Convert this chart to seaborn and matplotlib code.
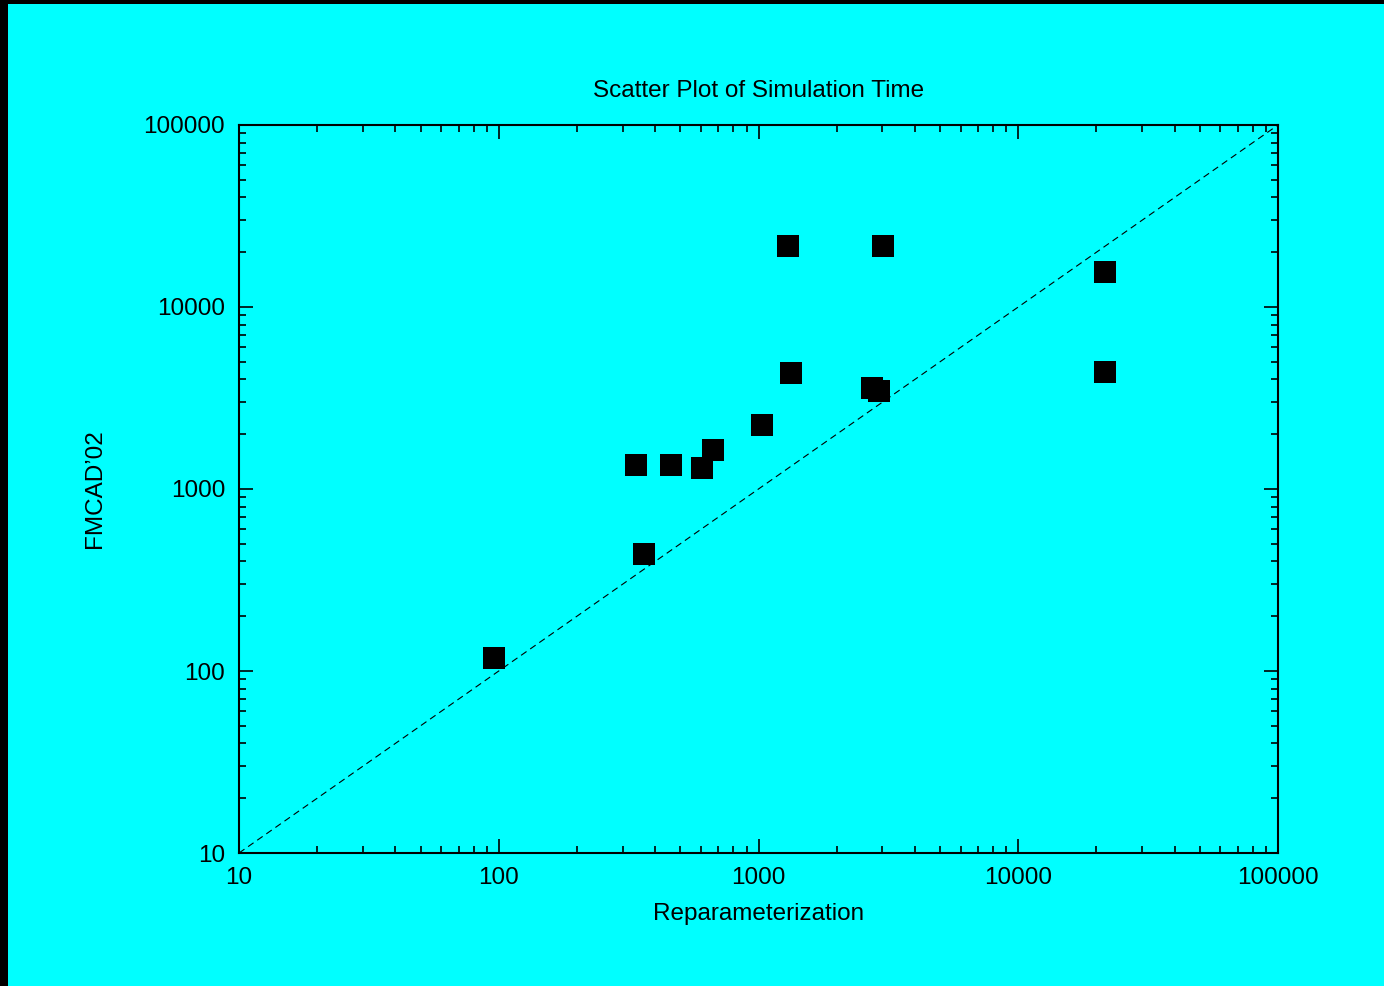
import matplotlib
matplotlib.use("Agg")
import matplotlib.pyplot as plt
import matplotlib.ticker as mticker
from matplotlib.patches import Rectangle
import seaborn as sns
import pandas as pd

sns.set_style("ticks")
plt.rcParams['font.family'] = ['Liberation Sans', 'DejaVu Sans']
plt.rcParams['text.color'] = 'black'
plt.rcParams['axes.labelcolor'] = 'black'

# simulation times
reparam = [96, 338, 460, 606, 668, 362, 1031, 1299, 3015, 1334, 2735, 2910, 21580, 21580]
fmcad02 = [118, 1355, 1355, 1305, 1638, 440, 2247, 21630, 21630, 4338, 3589, 3454, 15570, 4395]
diag = [10, 100000]

df = pd.DataFrame({"Reparameterization": reparam, "FMCAD'02": fmcad02})
line = pd.DataFrame({"x": diag, "y": diag})

cyan = "#00ffff"
fig = plt.figure(figsize=(13.84, 9.86), dpi=100)
fig.patch.set_facecolor("black")
# cyan page with a thin black strip on the left and top
bg = Rectangle((8 / 1384, 0), 1, 1 - 4 / 986, transform=fig.transFigure,
               facecolor=cyan, edgecolor="none", zorder=-10)
fig.add_artist(bg)

ax = fig.add_axes([239 / 1384, 133 / 986, 1039 / 1384, 728 / 986])
ax.set_facecolor(cyan)

sns.lineplot(data=line, x="x", y="y", ax=ax, color="black", linewidth=0.8,
             linestyle=(0, (6, 4)))
sns.scatterplot(data=df, x="Reparameterization", y="FMCAD'02", ax=ax, marker="s",
                color="black", s=240, linewidth=0, zorder=3)

ax.set_xscale("log")
ax.set_yscale("log")
ax.set_xlim(10, 100000)
ax.set_ylim(10, 100000)

fmt = mticker.FuncFormatter(lambda v, p: "%d" % round(v))
ax.xaxis.set_major_formatter(fmt)
ax.yaxis.set_major_formatter(fmt)
ax.xaxis.set_minor_formatter(mticker.NullFormatter())
ax.yaxis.set_minor_formatter(mticker.NullFormatter())
ax.xaxis.set_minor_locator(mticker.LogLocator(subs=range(2, 10)))
ax.yaxis.set_minor_locator(mticker.LogLocator(subs=range(2, 10)))

ax.tick_params(which="both", direction="in", top=True, right=True, width=1.2, colors="black",
               labelsize=17.5)
ax.tick_params(which="major", length=10)
ax.tick_params(axis="x", which="major", pad=10)
ax.tick_params(axis="y", which="major", pad=10)
ax.tick_params(which="minor", length=5)
for sp in ax.spines.values():
    sp.set_linewidth(1.5)
    sp.set_color("black")

ax.set_title("Scatter Plot of Simulation Time", fontsize=17.5, pad=20)
ax.set_xlabel("Reparameterization", fontsize=17.5, labelpad=10)
ax.set_ylabel("FMCAD\u201902", fontsize=17.5, labelpad=27)

fig.savefig("out.png", dpi=100, facecolor=fig.get_facecolor())
